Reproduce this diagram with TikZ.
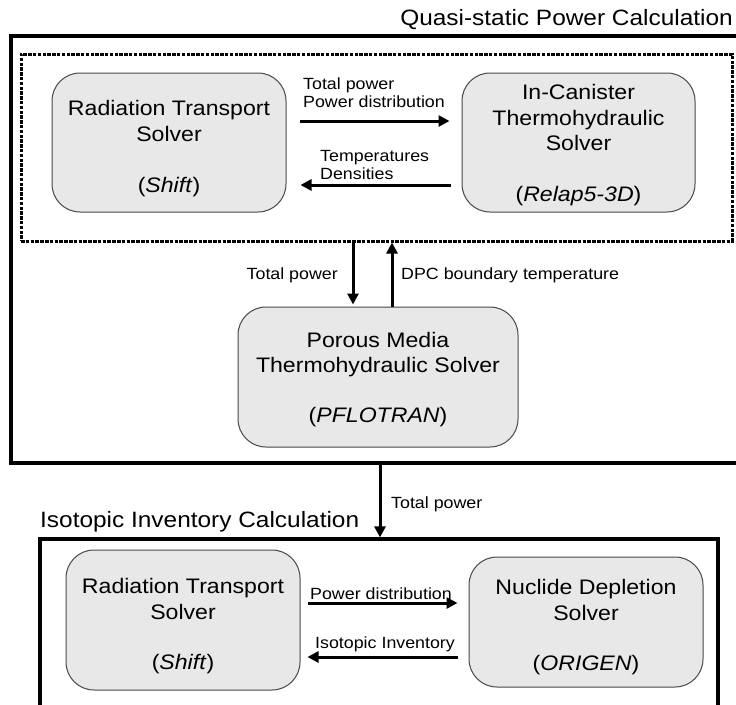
\documentclass[tikz,border=0pt]{standalone}
\usepackage{fontspec}
\setmainfont{Liberation Sans}[FakeStretch=1.1]
\usetikzlibrary{arrows.meta,calc}
\definecolor{boxfill}{HTML}{E8E8E8}
\definecolor{boxedge}{HTML}{484848}
\newcommand\lowr[1]{\rule{0pt}{#1pt}}
\begin{document}
\begin{tikzpicture}[x=1pt,y=-1pt,
  solver/.style={draw=boxedge, line width=1pt, fill=boxfill, rounded corners=28pt,
    align=center, font=\fontsize{21}{25.5}\selectfont, inner sep=0pt},
  lbl/.style={font=\fontsize{16.2}{18}\selectfont, inner sep=0pt, align=left},
  ttl/.style={font=\fontsize{22.2}{26}\selectfont, inner sep=0pt},
  flow/.style={line width=3pt, -{Triangle[length=11pt,width=11pt]}},
  frame/.style={draw, line width=3.2pt, inner sep=0pt},
  innerbox/.style={draw, line width=3pt, dash pattern=on 3.5pt off 1.3pt, inner sep=0pt}]
\useasboundingbox (0,0) rectangle (736,704);
\clip (0,0) rectangle (736,704);
\fill[white] (0,0) rectangle (736,704);

% frames
\node[frame, minimum width=740pt, minimum height=427pt] (qs) at (381,249.5) {};
\node[innerbox, minimum width=711pt, minimum height=187pt] (dpc) at (376.5,147.5) {};
\node[frame, minimum width=678pt, minimum height=181pt] (iic) at (379,629.5) {};

% titles
\node[ttl, anchor=base east] (qtitle) at (733,25) {Quasi-static Power Calculation};
\node[ttl, anchor=base west] (ititle) at (40,527) {Isotopic Inventory Calculation};

% solvers
\node[solver, minimum width=234pt, minimum height=139pt] (rt1) at (169,142.5)
  {\lowr{27}Radiation Transport\\Solver\\[25.5pt](\textit{Shift})};
\node[solver, minimum width=233pt, minimum height=139pt] (ic) at (578.5,142.5)
  {\lowr{21}In-Canister\\Thermohydraulic\\Solver\\[25.5pt](\textit{Relap5-3D})};
\node[solver, minimum width=280pt, minimum height=140pt] (pm) at (378,377)
  {\lowr{20.5}Porous Media\\Thermohydraulic Solver\\[24.5pt](\textit{PFLOTRAN})};
\node[solver, minimum width=234pt, minimum height=140pt] (rt2) at (183,620)
  {\lowr{27}Radiation Transport\\Solver\\[24.5pt](\textit{Shift})};
\node[solver, minimum width=234pt, minimum height=130pt] (nd) at (586,622)
  {\lowr{25}Nuclide Depletion\\Solver\\[24.5pt](\textit{ORIGEN})};

% top exchange
\draw[flow] ($(rt1.east)+(13,-21.5)$) -- ($(ic.west)+(-12,-21.5)$);
\draw[flow] ($(ic.west)+(-11,42.5)$) -- ($(rt1.east)+(14,42.5)$);
\node[lbl, anchor=south west] (l1) at (303,108) {Total power\\Power distribution};
\node[lbl, anchor=south west] (l2) at (320,180) {Temperatures\\Densities};

% middle exchange
\draw[flow] ($(dpc.south)+(-23.5,0)$) -- ($(pm.north)+(-25,-2)$);
\draw[flow] ($(pm.north)+(14,0)$) -- ($(dpc.south)+(15.5,0)$);
\node[lbl, anchor=base east] (l3) at (338,279) {Total power};
\node[lbl, anchor=base west] (l4) at (401,279) {DPC boundary temperature};

% between calculations
\draw[flow] ($(qs.south)+(-1,0)$) -- ($(iic.north)+(1,0)$);
\node[lbl, anchor=base west] (l5) at (391,508) {Total power};

% bottom exchange
\draw[flow] ($(rt2.east)+(7,-17)$) -- ($(nd.west)+(-11,-19)$);
\draw[flow] ($(nd.west)+(-11,35)$) -- ($(rt2.east)+(7,37)$);
\node[lbl, anchor=base west] (l6) at (310,599) {Power distribution};
\node[lbl, anchor=base west] (l7) at (315,648) {Isotopic Inventory};
\end{tikzpicture}
\end{document}
